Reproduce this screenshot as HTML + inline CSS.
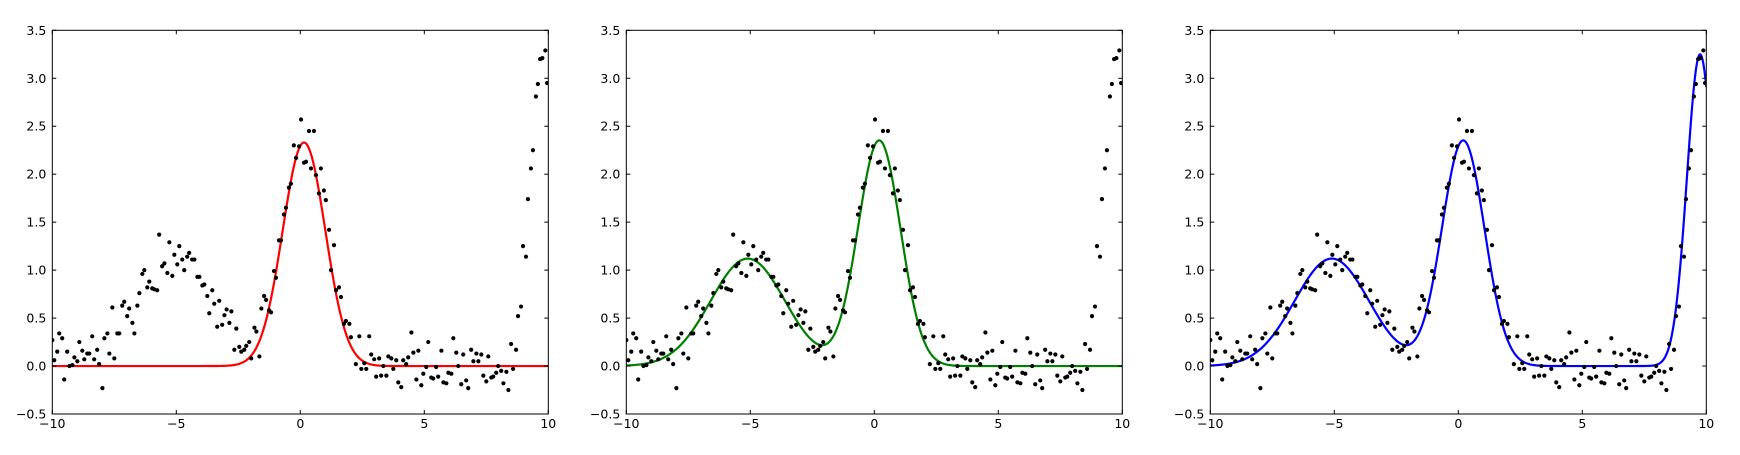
<!DOCTYPE html>
<html><head><meta charset="utf-8"><style>
html,body{margin:0;padding:0;background:#fff;}
svg{display:block;}
text{font-family:"DejaVu Sans","Liberation Sans",sans-serif;font-size:12.5px;fill:#000;}
</style></head><body>
<svg id="fig" width="1740" height="455" xmlns="http://www.w3.org/2000/svg"></svg>
<script>
const pointX = [-10,-9.92,-9.8,-9.72,-9.6,-9.52,-9.4,-9.31,-9.19,-9.11,-8.99,-8.91,-8.79,-8.71,-8.59,-8.51,-8.39,-8.31,-8.19,-8.11,-7.98,-7.9,-7.78,-7.7,-7.58,-7.5,-7.38,-7.3,-7.18,-7.1,-6.98,-6.9,-6.77,-6.69,-6.57,-6.49,-6.37,-6.29,-6.17,-6.09,-5.97,-5.89,-5.77,-5.69,-5.57,-5.48,-5.36,-5.28,-5.16,-5.08,-4.96,-4.88,-4.76,-4.68,-4.56,-4.48,-4.36,-4.27,-4.15,-4.07,-3.95,-3.87,-3.75,-3.67,-3.55,-3.47,-3.35,-3.27,-3.15,-3.06,-2.97,-2.86,-2.78,-2.66,-2.58,-2.46,-2.38,-2.26,-2.18,-2.06,-1.98,-1.85,-1.77,-1.65,-1.57,-1.46,-1.38,-1.26,-1.18,-1.06,-0.98,-0.86,-0.78,-0.66,-0.58,-0.46,-0.38,-0.26,-0.17,-0.05,0.03,0.15,0.23,0.35,0.43,0.55,0.63,0.75,0.83,0.95,1.03,1.16,1.24,1.36,1.44,1.56,1.64,1.76,1.84,1.98,2.04,2.24,2.38,2.46,2.58,2.66,2.78,2.86,2.98,3.06,3.18,3.26,3.35,3.47,3.55,3.67,3.75,3.87,3.95,4.07,4.15,4.27,4.35,4.48,4.56,4.68,4.76,4.88,4.96,5.08,5.16,5.28,5.36,5.48,5.56,5.69,5.77,5.89,5.97,6.09,6.17,6.29,6.37,6.49,6.57,6.69,6.77,6.89,6.98,7.1,7.18,7.3,7.38,7.5,7.58,7.7,7.78,7.9,7.98,8.1,8.19,8.31,8.39,8.5,8.58,8.7,8.78,8.9,8.98,9.1,9.18,9.3,9.38,9.5,9.58,9.67,9.76,9.88,9.95];
const pointY = [0.27,0.06,0.15,0.34,0.29,-0.14,0.15,0,0.01,0.09,0.05,0.25,0.16,0.07,0.13,0.13,0.31,0.07,0.17,0.02,-0.23,0.29,0.34,0.13,0.61,0.08,0.34,0.34,0.63,0.67,0.52,0.6,0.45,0.34,0.63,0.76,0.96,1.0,0.82,0.88,0.81,0.8,0.79,1.37,1.04,1.07,0.97,1.29,0.94,1.16,1.06,1.25,1.11,1.0,1.14,1.18,1.11,1.11,0.93,0.93,0.84,0.85,0.73,0.55,0.79,0.65,0.41,0.68,0.43,0.53,0.59,0.45,0.57,0.17,0.39,0.2,0.15,0.17,0.21,0.25,0.08,0.4,0.36,0.1,0.6,0.73,0.69,0.58,0.56,0.99,0.92,1.31,1.31,1.58,1.65,1.86,1.9,2.3,2.17,2.29,2.57,2.12,2.13,2.45,2.06,2.45,1.99,1.8,2.06,1.83,1.73,1.42,1.0,1.26,0.79,0.82,0.72,0.44,0.47,0.44,0.3,0.02,0.31,-0.03,0.03,-0.03,0.31,0.12,0.07,-0.11,0.08,-0.1,0,-0.1,0.1,0.08,-0.03,0.06,-0.17,-0.22,0.06,0.02,0.09,0.35,0.14,-0.14,0.16,-0.2,-0.08,-0.01,0.25,-0.12,-0.13,-0.01,-0.11,0.16,-0.17,-0.18,-0.07,-0.08,0.29,0.14,0,-0.19,0.12,-0.15,-0.23,0.17,0.05,0.13,0.05,0.12,-0.1,-0.16,0.1,-0.12,-0.11,-0.07,0,-0.05,-0.18,-0.06,-0.25,0.23,-0.03,0.17,0.52,0.62,1.25,1.14,1.74,2.06,2.25,2.81,2.94,3.2,3.21,3.29,2.95];
// fitted gaussian components per panel: amplitude, center, sigma
const fit1Amp = [2.33], fit1Center = [0.15], fit1Sigma = [0.86];
const fit2Amp = [1.12, 2.35], fit2Center = [-5.1, 0.2], fit2Sigma = [1.5, 0.86];
const fit3Amp = [1.12, 2.35, 3.25], fit3Center = [-5.1, 0.2, 9.75], fit3Sigma = [1.5, 0.86, 0.53];
const xTicks = [-10,-5,0,5,10];
const yTicks = [-0.5,0,0.5,1,1.5,2,2.5,3,3.5];

const NS = "http://www.w3.org/2000/svg";
const svg = document.getElementById('fig');
const panels = [
  {left:52.3, color:'#ff0000', amp:fit1Amp, cen:fit1Center, sig:fit1Sigma, name:'red'},
  {left:626.3, color:'#008000', amp:fit2Amp, cen:fit2Center, sig:fit2Sigma, name:'green'},
  {left:1210.3, color:'#0000ff', amp:fit3Amp, cen:fit3Center, sig:fit3Sigma, name:'blue'}
];
const W = 496, TOP = 30.3, BOT = 414;
function mk(tag, attrs, parent){const e=document.createElementNS(NS,tag);for(const k in attrs)e.setAttribute(k,attrs[k]);(parent||svg).appendChild(e);return e;}
function fmtY(v){const s=v.toFixed(1);return v<0?'\u2212'+s.slice(1):s;}
function fmtX(v){return v<0?'\u2212'+Math.abs(v):String(v);}
panels.forEach((p,i)=>{
  const xs = v => p.left + (v+10)/20*W;
  const ys = v => BOT - (v+0.5)/4*(BOT-TOP);
  const g = mk('g',{});
  
  
  const cp = mk('clipPath',{id:'clip'+i},g);
  mk('rect',{x:p.left,y:TOP,width:W,height:BOT-TOP},cp);
  // curve
  const n=800; let d='';
  for(let k=0;k<=n;k++){const x=-10+20*k/n;let y=0;for(let j=0;j<p.amp.length;j++){y+=p.amp[j]*Math.exp(-Math.pow(x-p.cen[j],2)/(2*p.sig[j]*p.sig[j]));}d+=(k?'L':'M')+xs(x).toFixed(2)+' '+ys(y).toFixed(2);}
  const path = mk('path',{d:d,fill:'none',stroke:p.color,'stroke-width':2.2,'clip-path':'url(#clip'+i+')'},g);
  
  
  // points
  const pg = mk('g',{'clip-path':'url(#clip'+i+')'},g);
  
  
  for(let k=0;k<pointX.length;k++){
    const c = mk('circle',{cx:xs(pointX[k]).toFixed(2),cy:ys(pointY[k]).toFixed(2),r:2.1,fill:'#000'},pg);
    
    
  }
  // frame
  const fr = mk('rect',{x:p.left,y:TOP,width:W,height:BOT-TOP,fill:'none',stroke:'#000','stroke-width':1},g);
  
  
  // ticks
  xTicks.forEach(t=>{
    const X=xs(t);
    mk('line',{x1:X,y1:BOT,x2:X,y2:BOT-4,stroke:'#000','stroke-width':1},g);
    mk('line',{x1:X,y1:TOP,x2:X,y2:TOP+4,stroke:'#000','stroke-width':1},g);
    const tx = mk('text',{x:X,y:428,'text-anchor':'middle'},g);
    tx.textContent = fmtX(t);
    
    
  });
  yTicks.forEach(t=>{
    const Y=ys(t);
    mk('line',{x1:p.left,y1:Y,x2:p.left+4,y2:Y,stroke:'#000','stroke-width':1},g);
    mk('line',{x1:p.left+W,y1:Y,x2:p.left+W-4,y2:Y,stroke:'#000','stroke-width':1},g);
    const ty = mk('text',{x:p.left-6,y:Y+4.5,'text-anchor':'end'},g);
    ty.textContent = fmtY(t);
    
    
  });
});
</script>
</body></html>
